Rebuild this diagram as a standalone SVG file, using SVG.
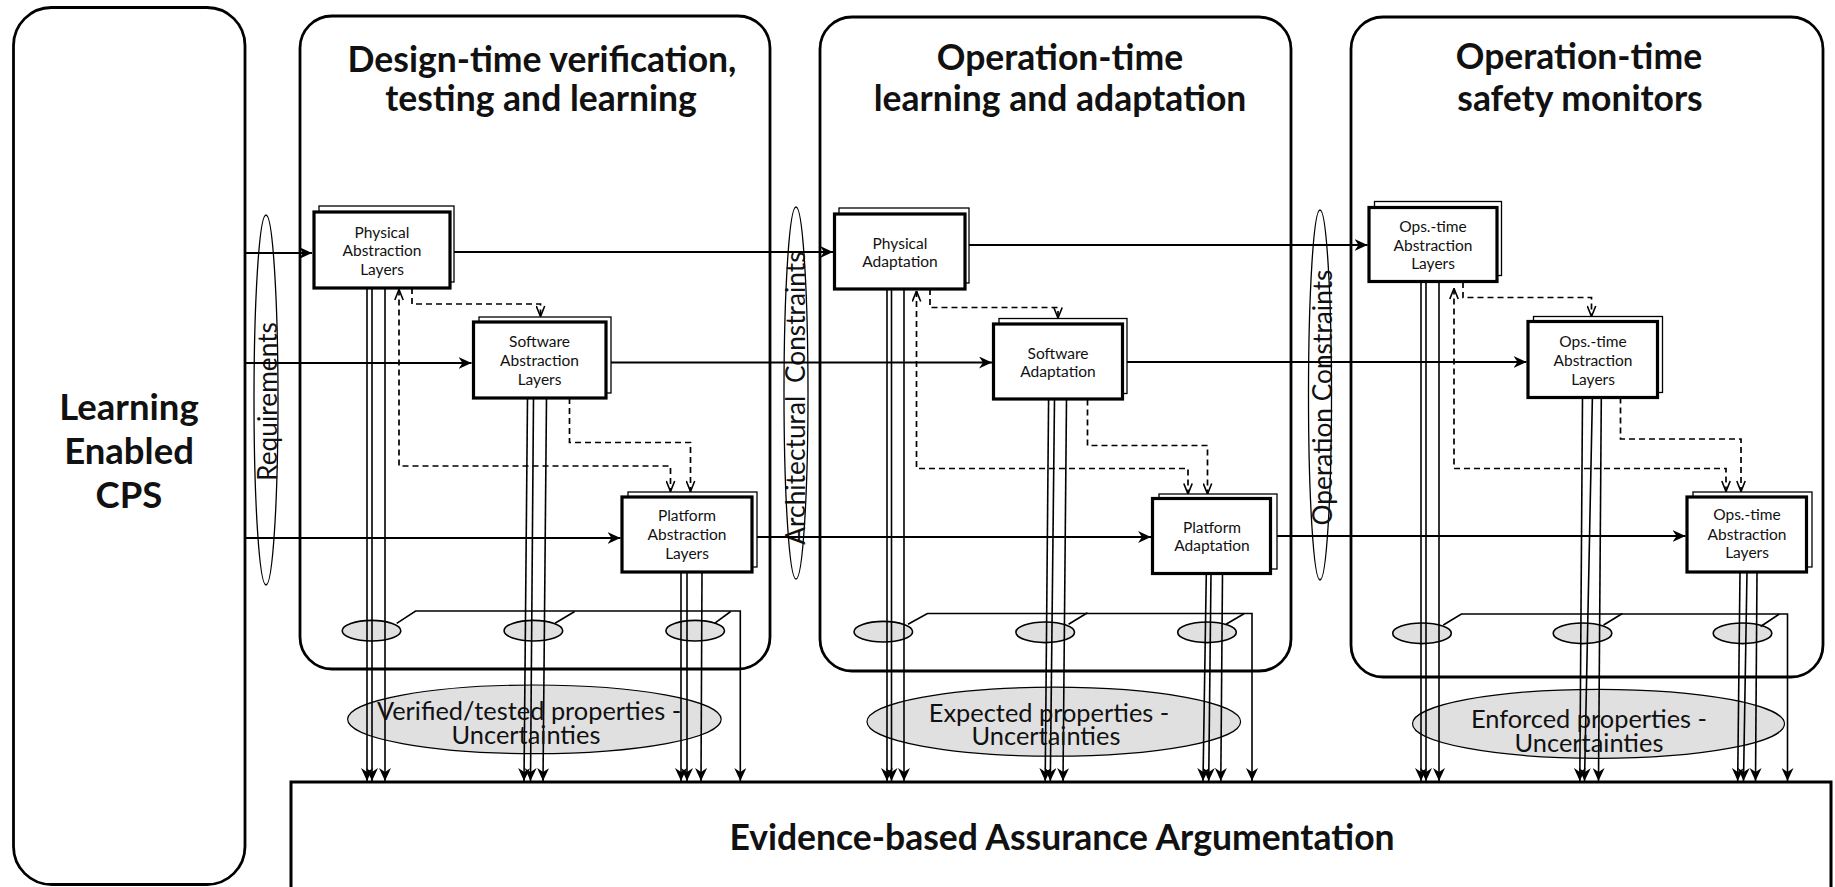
<svg xmlns="http://www.w3.org/2000/svg" width="1835" height="887" viewBox="0 0 1835 887">
  <style>
    text { font-family: Lato, "Open Sans", "Liberation Sans", sans-serif; fill: #111; }
    .hdr { font-size: 35.5px; font-weight: bold; text-anchor: middle; }
    .cps { font-size: 36.5px; font-weight: bold; text-anchor: middle; }
    .big { font-size: 35.5px; font-weight: bold; text-anchor: middle; }
    .lbl { font-size: 15.5px; text-anchor: middle; }
    .rot { font-size: 26.3px; text-anchor: middle; }
    .prop { font-size: 25.4px; text-anchor: middle; }
    .container { fill: #fff; stroke: #000; stroke-width: 2.8; }
    .front { fill: #fff; stroke: #000; stroke-width: 3.2; }
    .back { fill: #fff; stroke: #000; stroke-width: 1.3; }
    .constraint { fill: none; stroke: #000; stroke-width: 1.3; }
    .tap { fill: #e0e0e0; stroke: #000; stroke-width: 1.6; }
    .cloud { fill: #e0e0e0; stroke: #000; stroke-width: 1.2; }
    .flow { fill: none; stroke: #000; stroke-width: 2; marker-end: url(#ah); }
    .drop { fill: none; stroke: #000; stroke-width: 1.6; marker-end: url(#ah); }
    .link { fill: none; stroke: #000; stroke-width: 1.6; }
    .dash { fill: none; stroke: #000; stroke-width: 1.7; stroke-dasharray: 6 4; marker-end: url(#oh); }
    .both { marker-start: url(#oh); }
  </style>
  <defs>
    <marker id="ah" viewBox="0 0 13 12" refX="13" refY="6" markerWidth="13" markerHeight="12" markerUnits="userSpaceOnUse" orient="auto">
      <path d="M0,0 L13,6 L0,12 L4,6 z" fill="#000"/>
    </marker>
    <marker id="oh" viewBox="0 0 12 10" refX="11.5" refY="5" markerWidth="12" markerHeight="10" markerUnits="userSpaceOnUse" orient="auto-start-reverse">
      <path d="M1,0.8 L11.5,5 L1,9.2" fill="none" stroke="#000" stroke-width="1.6"/>
    </marker>
  </defs>

  <rect width="1835" height="887" fill="#fff"/>

  <!-- system under assurance -->
  <g id="le-cps">
    <rect class="container" x="13.5" y="7.5" width="231.5" height="877" rx="38"/>
    <text class="cps" x="129" y="420">Learning</text>
    <text class="cps" x="129" y="464">Enabled</text>
    <text class="cps" x="129" y="508">CPS</text>
  </g>

  <!-- lifecycle stages -->
  <g id="stage-design">
    <rect class="container" x="300" y="16" width="470" height="653" rx="32"/>
    <text class="hdr" x="542" y="71.5">Design-time verification,</text>
    <text class="hdr" x="541" y="111">testing and learning</text>
  </g>
  <g id="stage-adapt">
    <rect class="container" x="820" y="17" width="471" height="654" rx="32"/>
    <text class="hdr" x="1060" y="69.5">Operation-time</text>
    <text class="hdr" x="1060" y="110.5">learning and adaptation</text>
  </g>
  <g id="stage-monitor">
    <rect class="container" x="1351" y="17" width="472" height="660" rx="32"/>
    <text class="hdr" x="1579" y="69">Operation-time</text>
    <text class="hdr" x="1580" y="110.5">safety monitors</text>
  </g>

  <!-- assurance target -->
  <g id="assurance">
    <rect x="291" y="782" width="1540" height="130" fill="#fff" stroke="#000" stroke-width="3"/>
    <text class="big" x="1062" y="850">Evidence-based Assurance Argumentation</text>
  </g>

  <!-- constraint bands between stages -->
  <g id="requirements">
    <ellipse class="constraint" cx="266" cy="400" rx="12" ry="185"/>
    <text class="rot" transform="translate(276.5,401.5) rotate(-90)">Requirements</text>
  </g>
  <g id="arch-constraints">
    <ellipse class="constraint" cx="796" cy="393" rx="12" ry="186"/>
    <text class="rot" transform="translate(805,398) rotate(-90)" word-spacing="6">Architectural Constraints</text>
  </g>
  <g id="op-constraints">
    <ellipse class="constraint" cx="1320" cy="395" rx="11.5" ry="185"/>
    <text class="rot" transform="translate(1331.5,397.5) rotate(-90)">Operation Constraints</text>
  </g>

  <!-- property collectors -->
  <g id="props-design">
    <ellipse class="cloud" cx="534.4" cy="719.3" rx="186.8" ry="34.3"/>
    <ellipse class="tap" cx="371.5" cy="630.7" rx="29.3" ry="10.3"/>
    <ellipse class="tap" cx="533.4" cy="630.7" rx="29.3" ry="10.3"/>
    <ellipse class="tap" cx="695.2" cy="630.7" rx="29.3" ry="10.3"/>
  </g>
  <g id="props-adapt">
    <ellipse class="cloud" cx="1053.8" cy="721.7" rx="186.8" ry="34.5"/>
    <ellipse class="tap" cx="883.3" cy="631.7" rx="29.3" ry="10.3"/>
    <ellipse class="tap" cx="1045.2" cy="632.3" rx="29.3" ry="10.3"/>
    <ellipse class="tap" cx="1207" cy="632.3" rx="29.3" ry="10.3"/>
  </g>
  <g id="props-monitor">
    <ellipse class="cloud" cx="1598.5" cy="723.8" rx="186" ry="34.5"/>
    <ellipse class="tap" cx="1422" cy="633.3" rx="29.3" ry="10.3"/>
    <ellipse class="tap" cx="1582.5" cy="633.3" rx="29.3" ry="10.3"/>
    <ellipse class="tap" cx="1742.5" cy="633.3" rx="29.3" ry="10.3"/>
  </g>

  <!-- connectors -->
  <g id="connectors">
    <!-- layer flows across stages -->
    <path class="flow" d="M245,253 H312"/>
    <path class="flow" d="M450,252 H833"/>
    <path class="flow" d="M965,245 H1367.5"/>
    <path class="flow" d="M245,363 H471.5"/>
    <path class="flow" d="M606,362.5 H992"/>
    <path class="flow" d="M1122.5,362 H1526.5"/>
    <path class="flow" d="M245,538 H620.5"/>
    <path class="flow" d="M757,537 H1151"/>
    <path class="flow" d="M1277,536 H1685.5"/>

    <!-- cross-layer dependencies -->
    <path class="dash" d="M412,288 V304 H540.5 V316.5"/>
    <path class="dash both" d="M399,289.5 V466 H670.5 V491.5"/>
    <path class="dash" d="M569.5,398 V442.5 H690.5 V491.5"/>
    <path class="dash" d="M930,289 V307.5 H1058 V318"/>
    <path class="dash both" d="M916.5,291 V468.5 H1188 V494"/>
    <path class="dash" d="M1087.5,399.5 V445.5 H1207.5 V494"/>
    <path class="dash" d="M1463,282 V297.5 H1591.5 V316.5"/>
    <path class="dash both" d="M1454,288.5 V468.5 H1726 V491.5"/>
    <path class="dash" d="M1620.5,397.5 V439 H1741 V491.5"/>

    <!-- evidence drops: design-time -->
    <path class="drop" d="M367,288 V781"/>
    <path class="drop" d="M372,288 V781"/>
    <path class="drop" d="M385,288 V781"/>
    <path class="drop" d="M527.5,398 L524,781"/>
    <path class="drop" d="M533.5,398 L530.5,781"/>
    <path class="drop" d="M546.5,398 L543,781"/>
    <path class="drop" d="M681,572 V781"/>
    <path class="drop" d="M687,572 V781"/>
    <path class="drop" d="M702,572 L701,781"/>
    <path class="drop" d="M396.7,623.3 L415.6,611 H740.3 V781"/>
    <path class="link" d="M555,623.3 L574.7,611.5"/>
    <path class="link" d="M714.5,623.3 L730.7,611.5"/>

    <!-- evidence drops: operation-time adaptation -->
    <path class="drop" d="M887,289 V781"/>
    <path class="drop" d="M891.5,289 V781"/>
    <path class="drop" d="M904,289 V781"/>
    <path class="drop" d="M1048.6,399 L1045.2,781"/>
    <path class="drop" d="M1054.5,399 L1050.3,781"/>
    <path class="drop" d="M1066.5,399 L1063,781"/>
    <path class="drop" d="M1206.3,573.5 L1203,781"/>
    <path class="drop" d="M1211,573.5 L1208.7,781"/>
    <path class="drop" d="M1222.5,573.5 L1220.8,781"/>
    <path class="drop" d="M908,624.3 L927.4,613.5 H1252 V781"/>
    <path class="link" d="M1068.6,624.3 L1087.5,612.7"/>
    <path class="link" d="M1226,624.3 L1244,613.8"/>

    <!-- evidence drops: safety monitors -->
    <path class="drop" d="M1421,282 V781"/>
    <path class="drop" d="M1426,282 V781"/>
    <path class="drop" d="M1439,282 V781"/>
    <path class="drop" d="M1582.5,397.5 L1579.8,781"/>
    <path class="drop" d="M1592.4,397.5 L1584.5,781"/>
    <path class="drop" d="M1601.3,397.5 L1598.5,781"/>
    <path class="drop" d="M1740,572 L1737.7,781"/>
    <path class="drop" d="M1747,572 L1743.5,781"/>
    <path class="drop" d="M1757,572 L1755.5,781"/>
    <path class="drop" d="M1443.3,625 L1461.4,614 H1787.5 V781"/>
    <path class="link" d="M1603.6,625 L1622.4,613.5"/>
    <path class="link" d="M1760.6,626.5 L1779.4,614"/>
  </g>

  <!-- property labels -->
  <g id="props-text">
    <text class="prop" x="529" y="720">Verified/tested properties -</text>
    <text class="prop" x="526" y="743.5">Uncertainties</text>
    <text class="prop" x="1049" y="721.7">Expected properties -</text>
    <text class="prop" x="1046" y="745">Uncertainties</text>
    <text class="prop" x="1589" y="728.3">Enforced properties -</text>
    <text class="prop" x="1589" y="751.7">Uncertainties</text>
  </g>

  <!-- design-time layers -->
  <g id="phys-abs">
    <rect class="back" x="319" y="206" width="135" height="76"/>
    <rect class="front" x="314" y="212" width="136" height="76"/>
    <text class="lbl" x="382" y="237.5">Physical</text>
    <text class="lbl" x="382" y="256">Abstraction</text>
    <text class="lbl" x="382" y="274.5">Layers</text>
  </g>
  <g id="sw-abs">
    <rect class="back" x="479" y="317" width="132" height="76"/>
    <rect class="front" x="473.5" y="322" width="132.5" height="76"/>
    <text class="lbl" x="539.5" y="347">Software</text>
    <text class="lbl" x="539.5" y="366">Abstraction</text>
    <text class="lbl" x="539.5" y="385">Layers</text>
  </g>
  <g id="plat-abs">
    <rect class="back" x="628" y="492" width="129" height="75"/>
    <rect class="front" x="622" y="497" width="130" height="75"/>
    <text class="lbl" x="687" y="520.5">Platform</text>
    <text class="lbl" x="687" y="539.5">Abstraction</text>
    <text class="lbl" x="687" y="558.5">Layers</text>
  </g>

  <!-- operation-time adaptation layers -->
  <g id="phys-adapt">
    <rect class="back" x="839" y="208" width="130" height="75"/>
    <rect class="front" x="834.5" y="214" width="130.5" height="75"/>
    <text class="lbl" x="900" y="248.5">Physical</text>
    <text class="lbl" x="900" y="267">Adaptation</text>
  </g>
  <g id="sw-adapt">
    <rect class="back" x="999" y="318.5" width="128" height="75"/>
    <rect class="front" x="993.5" y="324" width="129" height="75"/>
    <text class="lbl" x="1058" y="358.5">Software</text>
    <text class="lbl" x="1058" y="377">Adaptation</text>
  </g>
  <g id="plat-adapt">
    <rect class="back" x="1159" y="494" width="118" height="75"/>
    <rect class="front" x="1152.5" y="498.5" width="118" height="75"/>
    <text class="lbl" x="1212" y="532.5">Platform</text>
    <text class="lbl" x="1212" y="551">Adaptation</text>
  </g>

  <!-- safety monitor layers -->
  <g id="mon-1">
    <rect class="back" x="1374.5" y="201.5" width="127" height="74"/>
    <rect class="front" x="1369" y="207.5" width="128" height="74"/>
    <text class="lbl" x="1433" y="231.5">Ops.-time</text>
    <text class="lbl" x="1433" y="250.5">Abstraction</text>
    <text class="lbl" x="1433" y="269">Layers</text>
  </g>
  <g id="mon-2">
    <rect class="back" x="1533.5" y="316.5" width="129" height="76"/>
    <rect class="front" x="1528" y="321.5" width="129.5" height="76"/>
    <text class="lbl" x="1593" y="346.5">Ops.-time</text>
    <text class="lbl" x="1593" y="366">Abstraction</text>
    <text class="lbl" x="1593" y="385">Layers</text>
  </g>
  <g id="mon-3">
    <rect class="back" x="1693" y="492" width="119" height="75"/>
    <rect class="front" x="1687" y="497" width="119.5" height="75"/>
    <text class="lbl" x="1747" y="520">Ops.-time</text>
    <text class="lbl" x="1747" y="539.5">Abstraction</text>
    <text class="lbl" x="1747" y="558">Layers</text>
  </g>
</svg>
